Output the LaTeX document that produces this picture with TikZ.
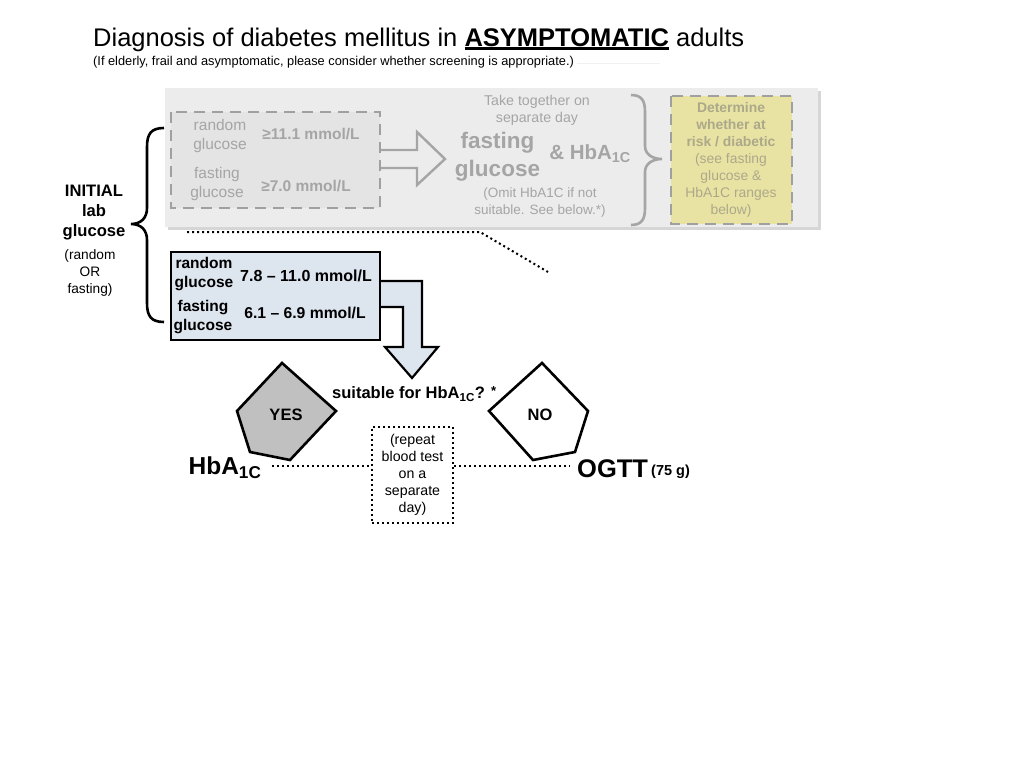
\documentclass[tikz,border=0pt]{standalone}
\usepackage{fontspec}
\setmainfont{Liberation Sans}
\usetikzlibrary{calc}
\definecolor{panel}{RGB}{236,236,236}
\definecolor{panelshade}{RGB}{214,214,214}
\definecolor{dashgray}{RGB}{160,160,160}
\definecolor{ghost}{RGB}{165,165,165}
\definecolor{innerbox}{RGB}{228,228,228}
\definecolor{yel}{RGB}{233,227,163}
\definecolor{yeltext}{RGB}{172,168,138}
\definecolor{lblue}{RGB}{221,229,239}
\definecolor{yesgray}{RGB}{192,192,192}
\newcommand{\thickul}[1]{\setbox0\hbox{#1}\rlap{\rule[-3.6pt]{\wd0}{2.6pt}}\box0}
\newcommand{\fs}[2]{\fontsize{#1}{#2}\selectfont}
\begin{document}
\begin{tikzpicture}[x=1pt,y=-1pt,
  txt/.style={inner sep=0pt, align=center},
  ghosttxt/.style={txt, text=ghost},
  dashbox/.style={draw=dashgray, line width=2.6pt, dash pattern=on 11pt off 7pt},
  dotline/.style={line width=2pt, dash pattern=on 2pt off 3pt},
  bold/.style={font=\bfseries}]
\useasboundingbox (0,0) rectangle (1024,768);

% title
\node[anchor=base west, inner sep=0pt] (title) at (93,46)
  {\fs{25.5}{30}Diagnosis of diabetes mellitus in \textbf{\thickul{ASYMPTOMATIC}} adults};
\node[anchor=base west, inner sep=0pt] (subtitle) at (93,66)
  {\fs{12.8}{15}(If elderly, frail and asymptomatic, please consider whether screening is appropriate.)};
\draw[draw=black!6, line width=0.8pt] (577,63) -- (660,63);

% grey panel
\fill[panelshade] (168,91) rectangle (821,230);
\fill[panel] (165,88) rectangle (818,227);

% hollow grey arrow
\fill[panel] (380,150) -- (417,150) -- (417,132) -- (445,159) -- (417,185) -- (417,168) -- (380,168) -- cycle;
\draw[draw=ghost, line width=2.4pt, line join=miter] (380,150) -- (417,150) -- (417,132) -- (445,159) -- (417,185) -- (417,168) -- (380,168);

% dashed grey box
\draw[dashbox, fill=innerbox] (171,112) rectangle (380,208);
\node[ghosttxt, font=\fs{15.5}{18.5}] (rg1) at (220,136) {random\\glucose};
\node[ghosttxt, font=\fs{15.5}{18}\bfseries] (rv1) at (311,134) {≥11.1 mmol/L};
\node[ghosttxt, font=\fs{15.5}{18.5}] (fg1) at (217,184) {fasting\\glucose};
\node[ghosttxt, font=\fs{15.5}{18}\bfseries] (fv1) at (306,186) {≥7.0 mmol/L};

% middle grey text
\node[ghosttxt, font=\fs{14.2}{17}] (take) at (537,110) {Take together on\\separate day};
\node[ghosttxt, font=\fs{22.5}{26}\bfseries] (fast2) at (497.5,143) {fasting};
\node[ghosttxt, font=\fs{22.5}{26}\bfseries] (gluc2) at (497.5,171) {glucose};
\node[ghosttxt, font=\fs{20.5}{26}\bfseries] (hba2) at (590,154) {\& HbA\textsubscript{1C}};
\node[ghosttxt, font=\fs{13.5}{17}] (omit) at (540,203) {(Omit HbA1C if not\\suitable. See below.*)};

% right grey brace
\draw[draw=ghost, line width=2.6pt] (631,95) .. controls (642,95) and (645,101) .. (645,112) -- (645,146) .. controls (645,154) and (652,159) .. (662,159) .. controls (652,159) and (645,164) .. (645,172) -- (645,208) .. controls (645,219) and (642,225) .. (631,225);

% yellow box
\draw[dashbox, fill=yel] (671,96) rectangle (792,224);
\node[txt, text=yeltext, font=\fs{13.9}{17}] (determ) at (731,160)
  {\textbf{Determine}\\\textbf{whether at}\\\textbf{risk / diabetic}\\(see fasting\\glucose \&\\HbA1C ranges\\below)};

% left brace
\draw[line width=2.6pt] (164,128) .. controls (151,128) and (147,134) .. (147,147) -- (147,208) .. controls (147,218) and (141,224) .. (131,224) .. controls (141,224) and (147,230) .. (147,240) -- (147,303) .. controls (147,316) and (151,322) .. (164,322);
\node[txt, font=\fs{16.6}{20}\bfseries] (initial) at (94,213) {INITIAL\\lab\\glucose};
\node[txt, font=\fs{13.7}{17}] (randor) at (90,273) {(random\\OR\\fasting)};

% dotted zoom line
\coordinate (z1) at (187,232);
\coordinate (z2) at (480,232);
\coordinate (z3) at (548,272);
\draw[dotline] (z1) -- (z2) -- (z3);

% bent arrow
\draw[line width=2.2pt, fill=lblue, line join=miter] (380,281) -- (422,281) -- (422,347) -- (438,347) -- (412,378) -- (385,347) -- (403,347) -- (403,307) -- (380,307);

% blue box
\draw[line width=2.6pt, fill=lblue] (171,252) rectangle (380,340);
\node[txt, font=\fs{15.5}{19}\bfseries] (rg2) at (204,274) {random\\glucose};
\node[txt, font=\fs{16}{18}\bfseries] (rv2) at (306,276) {7.8 – 11.0 mmol/L};
\node[txt, font=\fs{15.5}{19}\bfseries] (fg2) at (203,317) {fasting\\glucose};
\node[txt, font=\fs{15.7}{18}\bfseries] (fv2) at (305,313) {6.1 – 6.9 mmol/L};

% question
\node[anchor=west, inner sep=0pt, font=\fs{16.5}{19}\bfseries] (suit) at (332,394) {suitable for HbA\textsubscript{1C}? \raisebox{3pt}{\fs{13}{14}*}};

% pentagons
\draw[line width=2.6pt, fill=yesgray, line join=miter] (282,363) -- (336,411) -- (290,460) -- (250,452) -- (237,411) -- cycle;
\node[txt, font=\fs{16.5}{18}\bfseries] (yes) at (286,415) {YES};
\draw[line width=2.6pt, fill=white, line join=miter] (542,363) -- (588,411) -- (575,452) -- (533,460) -- (489,411) -- cycle;
\node[txt, font=\fs{16.5}{18}\bfseries] (no) at (540,415) {NO};

% bottom row
\node[txt, font=\fs{24.5}{28}\bfseries] (hba) at (225,468) {HbA\textsubscript{1C}};
\node[txt, font=\fs{14.2}{17}, minimum width=81pt, minimum height=96pt, draw, dotline] (repeat) at (412.5,475) {(repeat\\blood test\\on a\\separate\\day)};
\node[anchor=west, inner sep=0pt, font=\fs{25.5}{28}\bfseries] (ogtt) at (577,469) {OGTT};
\node[anchor=west, inner sep=0pt, font=\fs{14.5}{16}\bfseries] (ogttg) at (651,472) {(75 g)};
\coordinate (dl) at (272,466);
\coordinate (dr) at (570,466);
\draw[dotline] (dl) -- (dl -| repeat.west);
\draw[dotline] (dr -| repeat.east) -- (dr);
\end{tikzpicture}
\end{document}
